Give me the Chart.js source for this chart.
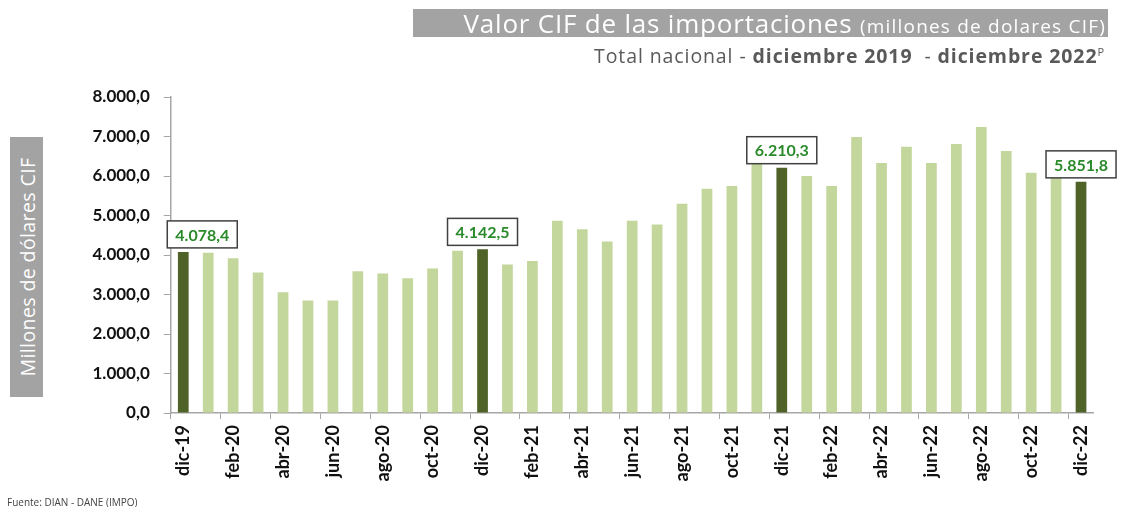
<!DOCTYPE html>
<html>
<head>
<meta charset="utf-8">
<script src="https://cdn.jsdelivr.net/npm/chart.js@4"></script>
<style>
  html, body { margin: 0; padding: 0; background: #fff; }
  #wrap { position: relative; width: 1123px; height: 507px; }
  #c { position: absolute; left: 0; top: 0; }
  .title { position: absolute; left: 413px; top: 9px; width: 695px; height: 28px; background: #a3a3a3;
           color: #fff; font-family: "Open Sans", sans-serif; font-size: 26px; line-height: 28px;
           letter-spacing: 0.8px; text-align: right; white-space: nowrap; box-sizing: border-box; padding-right: 2px; }
  .title small { font-size: 19px; letter-spacing: 1.2px; }
  .sub { position: absolute; right: 18px; top: 42px; color: #595959; font-family: "Open Sans", sans-serif;
         font-size: 19.5px; letter-spacing: 0.9px; white-space: nowrap; }
  .sub sup { font-size: 11px; }
  .ytitle { position: absolute; left: 10px; top: 137px; width: 33px; height: 260px; background: #a3a3a3; }
  .ytitle span { position: absolute; left: 50%; top: 50%; transform: translate(-50%, -50%) rotate(-90deg);
                 color: #fff; font-family: "Open Sans", sans-serif; font-size: 19.5px; letter-spacing: 0.4px; white-space: nowrap; }
  .src { position: absolute; left: 7px; top: 495px; font-family: "Open Sans", sans-serif; font-size: 10px;
         color: #444; white-space: nowrap; }
</style>
</head>
<body>
<div id="wrap">
  <canvas id="c" width="1123" height="507"></canvas>
  <div class="title">Valor CIF de las importaciones <small>(millones de dolares CIF)</small></div>
  <div class="sub">Total nacional - <b>diciembre 2019</b>&nbsp; - <b>diciembre 2022</b><sup>P</sup></div>
  <div class="ytitle"><span>Millones de dólares CIF</span></div>
  <div class="src">Fuente: DIAN - DANE (IMPO)</div>
</div>
<script>
var months = ['dic-19',
  'ene-20','feb-20','mar-20','abr-20','may-20','jun-20','jul-20','ago-20','sep-20','oct-20','nov-20','dic-20',
  'ene-21','feb-21','mar-21','abr-21','may-21','jun-21','jul-21','ago-21','sep-21','oct-21','nov-21','dic-21',
  'ene-22','feb-22','mar-22','abr-22','may-22','jun-22','jul-22','ago-22','sep-22','oct-22','nov-22','dic-22'];

var valores = [4078.4,
  4060, 3920, 3560, 3060, 2850, 2850, 3590, 3530, 3410, 3660, 4110, 4142.5,
  3760, 3850, 4870, 4650, 4340, 4870, 4770, 5300, 5680, 5750, 6330, 6210.3,
  6000, 5750, 6990, 6330, 6740, 6330, 6810, 7240, 6630, 6080, 6010, 5851.8];

// the December months that are drawn dark and carry a value box
var destacados = ['dic-19', 'dic-20', 'dic-21', 'dic-22'];

var yTicks = [0, 1000, 2000, 3000, 4000, 5000, 6000, 7000, 8000];

function fmt(v) {
  var s = v.toFixed(1).split('.');
  var ent = s[0].replace(/\B(?=(\d{3})+(?!\d))/g, '.');
  return ent + ',' + s[1];
}

var colores = months.map(function(m) {
  return destacados.indexOf(m) >= 0 ? '#4f6228' : '#c3d69b';
});

var etiquetas = {
  id: 'etiquetas',
  afterDatasetsDraw: function(chart) {
    var ctx = chart.ctx;
    var meta = chart.getDatasetMeta(0);
    ctx.save();
    ctx.font = 'bold 16px Lato, sans-serif';
    ctx.textAlign = 'center';
    ctx.textBaseline = 'middle';
    months.forEach(function(m, i) {
      if (destacados.indexOf(m) < 0) return;
      var bar = meta.data[i];
      var txt = fmt(valores[i]);
      var w = 70, h = 27;
      var cx = bar.x + (i === 0 ? 19 : 0);
      var bottom = bar.y - 4;
      ctx.fillStyle = '#fff';
      ctx.fillRect(cx - w / 2, bottom - h, w, h);
      ctx.strokeStyle = '#404040';
      ctx.lineWidth = 1.5;
      ctx.strokeRect(cx - w / 2, bottom - h, w, h);
      ctx.fillStyle = '#2a8a2a';
      ctx.fillText(txt, cx, bottom - h / 2 + 1);
    });
    ctx.restore();
  }
};

new Chart(document.getElementById('c'), {
  type: 'bar',
  data: {
    labels: months,
    datasets: [{
      data: valores,
      backgroundColor: colores,
      barPercentage: 0.43,
      categoryPercentage: 1
    }]
  },
  options: {
    responsive: false,
    animation: false,
    layout: { padding: { top: 97, right: 29.5, left: 0, bottom: 0 } },
    plugins: { legend: { display: false }, tooltip: { enabled: false } },
    scales: {
      x: {
        offset: true,
        afterFit: function(s) { s.height = 94; },
        border: { color: '#a6a6a6', width: 1.5 },
        grid: {
          offset: true,
          drawOnChartArea: false,
          tickLength: 6,
          color: function(c) {
            return (c.index !== undefined && c.index % 2 === 0) ? '#a6a6a6' : 'rgba(0,0,0,0)';
          }
        },
        ticks: {
          autoSkip: false,
          minRotation: 90,
          maxRotation: 90,
          padding: 6,
          color: '#111',
          font: { family: 'Lato, sans-serif', size: 18, weight: 'bold' },
          callback: function(v, i) { return i % 2 === 0 ? months[i] : ''; }
        }
      },
      y: {
        min: 0,
        max: 8000,
        afterFit: function(s) { s.width = 170.8; },
        afterBuildTicks: function(s) { s.ticks = yTicks.map(function(v) { return { value: v }; }); },
        border: { color: '#a6a6a6', width: 1.5 },
        grid: { drawOnChartArea: false, tickLength: 7, color: '#a6a6a6' },
        ticks: {
          padding: 14,
          color: '#111',
          font: { family: 'Lato, sans-serif', size: 17, weight: 'bold' },
          callback: function(v) { return fmt(v); }
        }
      }
    }
  },
  plugins: [etiquetas]
});
</script>
</body>
</html>
